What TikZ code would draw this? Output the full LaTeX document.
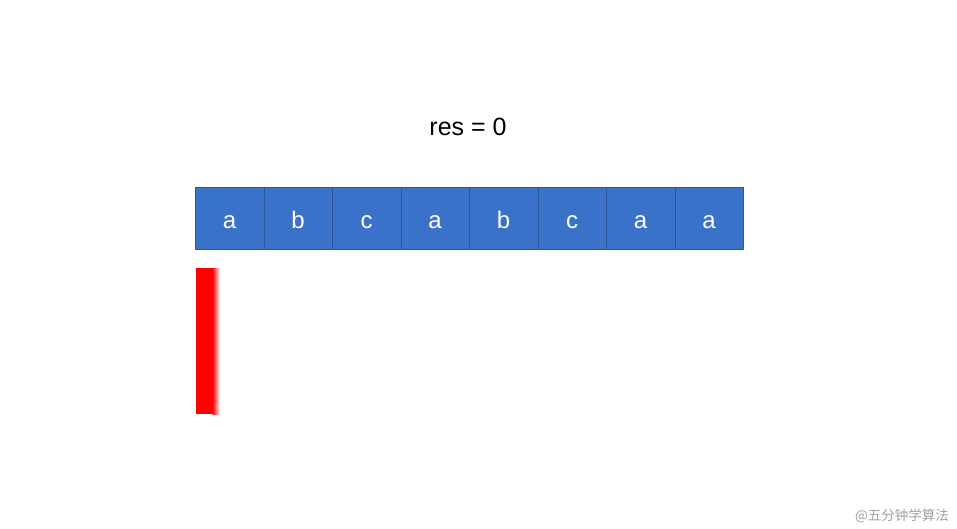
\documentclass[tikz,border=0pt]{standalone}
\usepackage{fontspec}
\setmainfont{Liberation Sans}
\newfontfamily\cjk{Noto Sans CJK SC}
\definecolor{cellfill}{HTML}{3A72C9}
\definecolor{celledge}{HTML}{2B5699}
\definecolor{wm}{HTML}{A0A0A0}
\begin{document}
\begin{tikzpicture}[x=1pt,y=-1pt,
  cell/.style={draw=celledge,line width=0.8pt,fill=cellfill,minimum width=68.5pt,minimum height=62pt,inner sep=0pt,text=white,font=\fontsize{24}{28}\selectfont,text height=22pt,text depth=2pt},
  lbl/.style={font=\fontsize{25}{30}\selectfont}]
\useasboundingbox (0,0) rectangle (957,529);
\fill[white] (0,0) rectangle (957,529);
\node[lbl,anchor=base] (res) at (468,135.5) {res = 0};
\foreach \t [count=\i from 0] in {a,b,c,a,b,c,a,a}{
  \node[cell,anchor=north west] (c\i) at ({195+68.5*\i},187) {\t};
}
\fill[red] (196,268) rectangle (213,414);
\shade[left color=red,right color=white,draw=none] (212.5,268) rectangle (220,414);
\node[text=wm,font=\cjk\fontsize{13.5}{15}\selectfont] (wmk) at (902,516) {@五分钟学算法};
\end{tikzpicture}
\end{document}
